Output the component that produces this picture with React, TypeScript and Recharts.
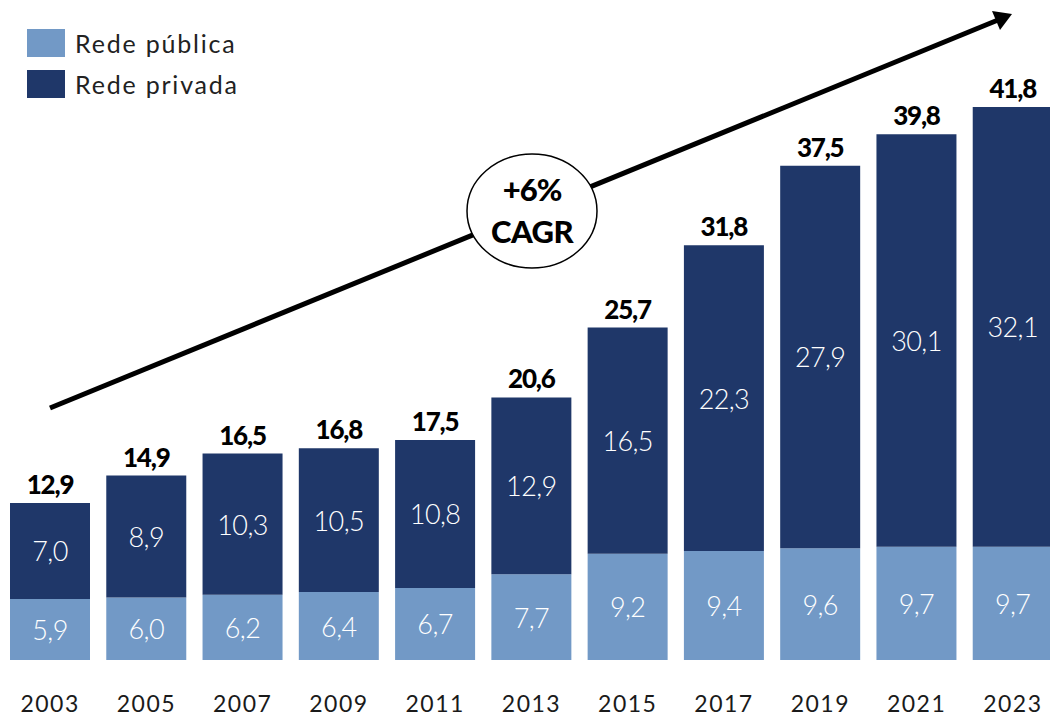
import React from "react";
import { BarChart, Bar, XAxis, YAxis, LabelList, Legend } from "recharts";

const years = ["2003", "2005", "2007", "2009", "2011", "2013", "2015", "2017", "2019", "2021", "2023"];
const publica = [5.9, 6.0, 6.2, 6.4, 6.7, 7.7, 9.2, 9.4, 9.6, 9.7, 9.7];
const privada = [7.0, 8.9, 10.3, 10.5, 10.8, 12.9, 16.5, 22.3, 27.9, 30.1, 32.1];
const totals = [12.9, 14.9, 16.5, 16.8, 17.5, 20.6, 25.7, 31.8, 37.5, 39.8, 41.8];
const seriesNames = ["Rede pública", "Rede privada"];
const colors = ["#7299c6", "#1f3769"];
const yDomain = [1.44, 49.6];

const data = years.map((y, i) => ({
  year: y,
  publica: publica[i],
  privada: privada[i],
  total: totals[i],
}));

const FONT = "Lato, 'Open Sans', sans-serif";
const fmt = (v: number) => v.toFixed(1).replace(".", ",");

const InsideLabel = (props: any) => {
  const { x, y, width, height, value } = props;
  return (
    <text
      x={x + width / 2}
      y={y + height / 2}
      textAnchor="middle"
      dominantBaseline="central"
      fill="#ffffff"
      fontFamily={FONT}
      fontWeight={300}
      fontSize={27}
      letterSpacing={-0.6}
    >
      {fmt(value)}
    </text>
  );
};

const TotalLabel = (props: any) => {
  const { x, y, width, index } = props;
  return (
    <text
      x={x + width / 2}
      y={y - 9}
      textAnchor="middle"
      fill="#000000"
      fontFamily={FONT}
      fontWeight={900}
      fontSize={26}
      letterSpacing={-1.2}
    >
      {fmt(totals[index])}
    </text>
  );
};

const YearTick = (props: any) => {
  const { x, y, payload } = props;
  return (
    <text
      x={x}
      y={y + 35}
      textAnchor="middle"
      dominantBaseline="central"
      fill="#1a1a1a"
      fontFamily={FONT}
      fontSize={23}
      letterSpacing={1.5}
    >
      {payload.value}
    </text>
  );
};

const LegendContent = () => (
  <div style={{ fontFamily: FONT }}>
    {seriesNames.map((n, i) => (
      <div key={n} style={{ display: "flex", alignItems: "center", height: 41 }}>
        <div style={{ width: 38, height: 28, background: colors[i], marginRight: 10 }} />
        <span style={{ fontSize: 25, color: "#222", letterSpacing: 1.8 }}>{n}</span>
      </div>
    ))}
  </div>
);

export default function App() {
  return (
    <div
      style={{
        position: "absolute",
        left: 0,
        top: 0,
        width: 1050,
        height: 716,
        overflow: "hidden",
        background: "#ffffff",
      }}
    >
      <BarChart
        width={1061}
        height={716}
        data={data}
        margin={{ top: 0, right: 0, left: 2, bottom: 0 }}
      >
        <XAxis
          dataKey="year"
          axisLine={false}
          tickLine={false}
          height={56}
          interval={0}
          tick={<YearTick />}
        />
        <YAxis
          hide
          type="number"
          domain={yDomain}
          ticks={yDomain}
          tickCount={2}
          allowDataOverflow={true}
        />
        <Legend
          layout="horizontal"
          verticalAlign="middle"
          align="center"
          content={<LegendContent />}
          wrapperStyle={{ position: "absolute", left: 27, top: 22, width: 300 }}
        />
        <Bar dataKey="publica" stackId="a" fill={colors[0]} barSize={80} isAnimationActive={false}>
          <LabelList dataKey="publica" content={<InsideLabel />} />
        </Bar>
        <Bar dataKey="privada" stackId="a" fill={colors[1]} barSize={80} isAnimationActive={false}>
          <LabelList dataKey="privada" content={<InsideLabel />} />
          <LabelList dataKey="total" content={<TotalLabel />} />
        </Bar>
      </BarChart>
      <svg
        width={1050}
        height={716}
        style={{ position: "absolute", left: 0, top: 0, pointerEvents: "none" }}
      >
        <line x1={50} y1={408} x2={998} y2={20} stroke="#000" strokeWidth={5} />
        <polygon points="1012,14 992,11 1000,30" fill="#000" />
        <ellipse cx={532} cy={211} rx={65} ry={57} fill="#fff" stroke="#000" strokeWidth={1.5} />
        <text
          x={532}
          y={189}
          textAnchor="middle"
          dominantBaseline="central"
          fontFamily={FONT}
          fontWeight={900}
          fontSize={31}
          letterSpacing={-1}
          fill="#000"
        >
          +6%
        </text>
        <text
          x={532}
          y={231}
          textAnchor="middle"
          dominantBaseline="central"
          fontFamily={FONT}
          fontWeight={900}
          fontSize={31}
          letterSpacing={-0.5}
          fill="#000"
        >
          CAGR
        </text>
      </svg>
    </div>
  );
}
